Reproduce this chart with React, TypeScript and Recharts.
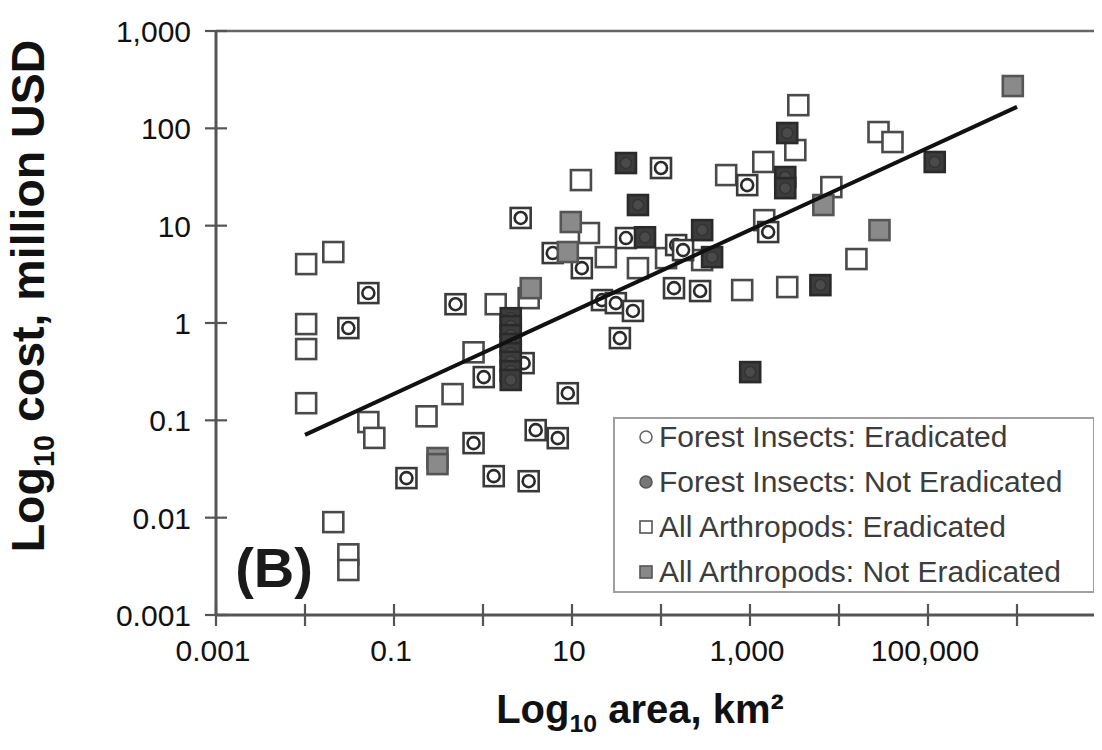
import React from 'react';
import { ScatterChart, Scatter, XAxis, YAxis, ReferenceLine, Legend } from 'recharts';

const FONT = '"Liberation Sans", Arial, Helvetica, sans-serif';

// Axis ticks (log10 decades)
const xTicks = [0.001, 0.01, 0.1, 1, 10, 100, 1000, 10000, 100000, 1000000, 10000000];
const xLabelValues = [0.001, 0.1, 10, 1000, 100000];
const xLabelTexts = ['0.001', '0.1', '10', '1,000', '100,000'];
const yTicks = [0.001, 0.01, 0.1, 1, 10, 100, 1000];
const yLabelTexts = ['0.001', '0.01', '0.1', '1', '10', '100', '1,000'];

// All Arthropods: Eradicated (open squares)
const arthropodsEradicated = [
  { x: 0.0103, y: 4.03 }, { x: 0.0208, y: 5.36 }, { x: 0.0103, y: 0.975 }, { x: 0.0103, y: 0.54 },
  { x: 0.0103, y: 0.15 }, { x: 0.0515, y: 0.096 }, { x: 0.0601, y: 0.066 }, { x: 0.232, y: 0.11 },
  { x: 0.455, y: 0.186 }, { x: 0.0208, y: 0.009 }, { x: 0.0307, y: 0.0042 }, { x: 0.0307, y: 0.0029 },
  { x: 0.783, y: 0.5 }, { x: 1.39, y: 1.56 }, { x: 3.26, y: 1.8 }, { x: 12.6, y: 29.4 },
  { x: 15.5, y: 8.4 }, { x: 24.0, y: 4.75 }, { x: 55.1, y: 3.66 }, { x: 114, y: 4.64 },
  { x: 290, y: 4.43 }, { x: 817, y: 2.18 }, { x: 2620, y: 2.34 }, { x: 540, y: 33.1 },
  { x: 1410, y: 45.1 }, { x: 3490, y: 173 }, { x: 3230, y: 59.8 }, { x: 1445, y: 11.4 },
  { x: 8200, y: 24.9 }, { x: 15700, y: 4.54 }, { x: 27800, y: 91.6 }, { x: 39900, y: 72.3 },
];

// Forest Insects: Eradicated (circle on square)
const forestEradicated = [
  { x: 0.0515, y: 2.03 }, { x: 0.0307, y: 0.887 }, { x: 0.491, y: 1.56 }, { x: 1.02, y: 0.278 },
  { x: 2.86, y: 0.387 }, { x: 8.97, y: 0.19 }, { x: 3.91, y: 0.0793 }, { x: 6.92, y: 0.0656 },
  { x: 0.783, y: 0.0583 }, { x: 0.138, y: 0.0255 }, { x: 1.32, y: 0.0267 }, { x: 3.26, y: 0.0237 },
  { x: 2.65, y: 12.0 }, { x: 6.08, y: 5.23 }, { x: 12.9, y: 3.66 }, { x: 40.4, y: 7.46 },
  { x: 100, y: 39.1 }, { x: 930, y: 26.1 }, { x: 148, y: 6.32 }, { x: 177, y: 5.61 },
  { x: 140, y: 2.28 }, { x: 275, y: 2.13 }, { x: 21.7, y: 1.72 }, { x: 31.1, y: 1.6 },
  { x: 48.4, y: 1.33 }, { x: 34.5, y: 0.7 }, { x: 1600, y: 8.6 },
];

// Forest Insects: Not Eradicated (dark)
const forestNotEradicated = [
  { x: 40.4, y: 44.0 }, { x: 55.1, y: 16.3 }, { x: 66.1, y: 7.6 }, { x: 290, y: 9.0 },
  { x: 375, y: 4.75 }, { x: 2490, y: 31.6 }, { x: 2490, y: 24.3 }, { x: 2620, y: 89.5 },
  { x: 6180, y: 2.45 }, { x: 119000, y: 45.1 }, { x: 1005, y: 0.313 },
  { x: 2.05, y: 1.12 }, { x: 2.05, y: 0.93 }, { x: 2.05, y: 0.75 }, { x: 2.05, y: 0.61 },
  { x: 2.05, y: 0.49 }, { x: 2.05, y: 0.4 }, { x: 2.05, y: 0.32 }, { x: 2.05, y: 0.26 },
];

// All Arthropods: Not Eradicated (gray)
const arthropodsNotEradicated = [
  { x: 3.44, y: 2.28 }, { x: 9.69, y: 10.9 }, { x: 0.308, y: 0.041 }, { x: 0.308, y: 0.0355 },
  { x: 6670, y: 16.3 }, { x: 28500, y: 9.0 }, { x: 897000, y: 272 }, { x: 8.97, y: 5.36 },
];

// Regression line end points
const fitLine = [{ x: 0.01, y: 0.071 }, { x: 1000000, y: 166 }];

const legendItems = [
  'Forest Insects: Eradicated',
  'Forest Insects: Not Eradicated',
  'All Arthropods: Eradicated',
  'All Arthropods: Not Eradicated',
];

const H = 10;

const OpenSquare = (p: any) => (
  <rect x={p.cx - H} y={p.cy - H} width={2 * H} height={2 * H} fill="#fff" stroke="#4a4a4a" strokeWidth={2.6} />
);
const CircleSquare = (p: any) => (
  <g>
    <rect x={p.cx - H} y={p.cy - H} width={2 * H} height={2 * H} fill="#fff" stroke="#3a3a3a" strokeWidth={2.6} />
    <circle cx={p.cx} cy={p.cy} r={6} fill="#fff" stroke="#2a2a2a" strokeWidth={2.6} />
  </g>
);
const DarkSquare = (p: any) => (
  <g>
    <rect x={p.cx - H} y={p.cy - H} width={2 * H} height={2 * H} fill="#3c3c3c" stroke="#2a2a2a" strokeWidth={2.6} />
    <circle cx={p.cx} cy={p.cy} r={5.5} fill="#4a4a4a" stroke="#333" strokeWidth={1.5} />
  </g>
);
const GraySquare = (p: any) => (
  <rect x={p.cx - H} y={p.cy - H} width={2 * H} height={2 * H} fill="#8a8a8a" stroke="#555" strokeWidth={2.6} />
);
const NoShape = () => <g />;

const XTick = (props: any) => {
  const { x, y, payload } = props;
  const i = xLabelValues.indexOf(payload.value);
  return (
    <g>
      <line x1={x} x2={x} y1={y - 11} y2={y + 11} stroke="#555" strokeWidth={2.2} />
      {i >= 0 && (
        <text x={x - 3} y={y + 46} textAnchor="middle" fontSize={30} fill="#111" fontFamily={FONT}>
          {xLabelTexts[i]}
        </text>
      )}
    </g>
  );
};

const YTick = (props: any) => {
  const { x, y, payload } = props;
  const i = yTicks.indexOf(payload.value);
  return (
    <g>
      <line x1={x - 11} x2={x + 11} y1={y} y2={y} stroke="#555" strokeWidth={2.2} />
      <text x={x - 25} y={y + 11} textAnchor="end" fontSize={30} fill="#111" fontFamily={FONT}>
        {i >= 0 ? yLabelTexts[i] : ''}
      </text>
    </g>
  );
};

const LegendMarker = ({ i }: { i: number }) => (
  <svg width={16} height={16} style={{ position: 'absolute', left: 23, top: 10 }}>
    {i === 0 && <circle cx={8} cy={8} r={6} fill="#fff" stroke="#666" strokeWidth={1.6} />}
    {i === 1 && <circle cx={8} cy={8} r={6} fill="#777" stroke="#555" strokeWidth={1.6} />}
    {i === 2 && <rect x={2} y={2} width={12} height={12} fill="#fff" stroke="#555" strokeWidth={1.6} />}
    {i === 3 && <rect x={2} y={2} width={12} height={12} fill="#888" stroke="#555" strokeWidth={1.6} />}
  </svg>
);

const renderLegend = () => (
  <div
    style={{
      position: 'relative',
      boxSizing: 'border-box',
      width: 482,
      height: 176,
      border: '2px solid #a0a0a0',
      background: '#fff',
    }}
  >
    {legendItems.map((t, i) => (
      <div key={t} style={{ position: 'absolute', left: 0, top: i * 45, height: 36, width: 470 }}>
        <LegendMarker i={i} />
        <span
          style={{
            position: 'absolute',
            left: 44,
            top: 1,
            fontFamily: FONT,
            fontSize: 30,
            lineHeight: '34px',
            color: '#3c3c3c',
            whiteSpace: 'nowrap',
          }}
        >
          {t}
        </span>
      </div>
    ))}
  </div>
);

export default function App() {
  return (
    <div
      style={{
        position: 'relative',
        width: 1102,
        height: 750,
        overflow: 'hidden',
        marginLeft: -8,
        marginTop: -8,
        background: '#fff',
        fontFamily: FONT,
      }}
    >
      <ScatterChart width={1130} height={750} margin={{ top: 31, right: 24, bottom: 55, left: 116 }}>
        <XAxis
          type="number"
          dataKey="x"
          scale="log"
          domain={[0.001, 10000000]}
          ticks={xTicks}
          interval={0}
          allowDataOverflow
          height={80}
          tickSize={0}
          tickMargin={0}
          tickLine={false}
          tick={<XTick />}
          axisLine={{ stroke: '#555', strokeWidth: 3 }}
        />
        <YAxis
          type="number"
          dataKey="y"
          scale="log"
          domain={[0.001, 1000]}
          ticks={yTicks}
          interval={0}
          allowDataOverflow
          width={100}
          tickSize={0}
          tickMargin={0}
          tickLine={false}
          tick={<YTick />}
          axisLine={{ stroke: '#555', strokeWidth: 3 }}
        />
        <ReferenceLine y={1000} stroke="#666" strokeWidth={2.5} />
        <Legend
          layout="vertical"
          align="center"
          verticalAlign="middle"
          width={482}
          height={176}
          wrapperStyle={{ position: 'absolute', left: 613, top: 417, width: 482, height: 176 }}
          content={renderLegend}
        />
        <Scatter name="All Arthropods: Eradicated" data={arthropodsEradicated} shape={OpenSquare} isAnimationActive={false} />
        <Scatter name="Forest Insects: Eradicated" data={forestEradicated} shape={CircleSquare} isAnimationActive={false} />
        <Scatter name="All Arthropods: Not Eradicated" data={arthropodsNotEradicated} shape={GraySquare} isAnimationActive={false} />
        <Scatter name="Forest Insects: Not Eradicated" data={forestNotEradicated} shape={DarkSquare} isAnimationActive={false} />
        <Scatter
          name="fit"
          data={fitLine}
          line={{ stroke: '#111', strokeWidth: 4 }}
          shape={NoShape}
          legendType="none"
          isAnimationActive={false}
        />
      </ScatterChart>

      <div
        style={{
          position: 'absolute',
          left: 36,
          top: 296,
          transform: 'translate(-50%, -50%) rotate(-90deg)',
          fontWeight: 'bold',
          fontSize: 46.5,
          lineHeight: '50px',
          whiteSpace: 'nowrap',
          color: '#111',
        }}
      >
        Log<sub style={{ fontSize: '0.62em' }}>10</sub> cost, million USD
      </div>

      <div
        style={{
          position: 'absolute',
          left: 640,
          top: 716,
          transform: 'translate(-50%, -50%)',
          fontWeight: 'bold',
          fontSize: 40,
          lineHeight: '44px',
          whiteSpace: 'nowrap',
          color: '#111',
        }}
      >
        Log<sub style={{ fontSize: '0.62em' }}>10</sub> area, km²
      </div>

      <div
        style={{
          position: 'absolute',
          left: 274,
          top: 568,
          transform: 'translate(-50%, -50%)',
          fontWeight: 'bold',
          fontSize: 56,
          lineHeight: '60px',
          whiteSpace: 'nowrap',
          color: '#1a1a1a',
        }}
      >
        (B)
      </div>
    </div>
  );
}
